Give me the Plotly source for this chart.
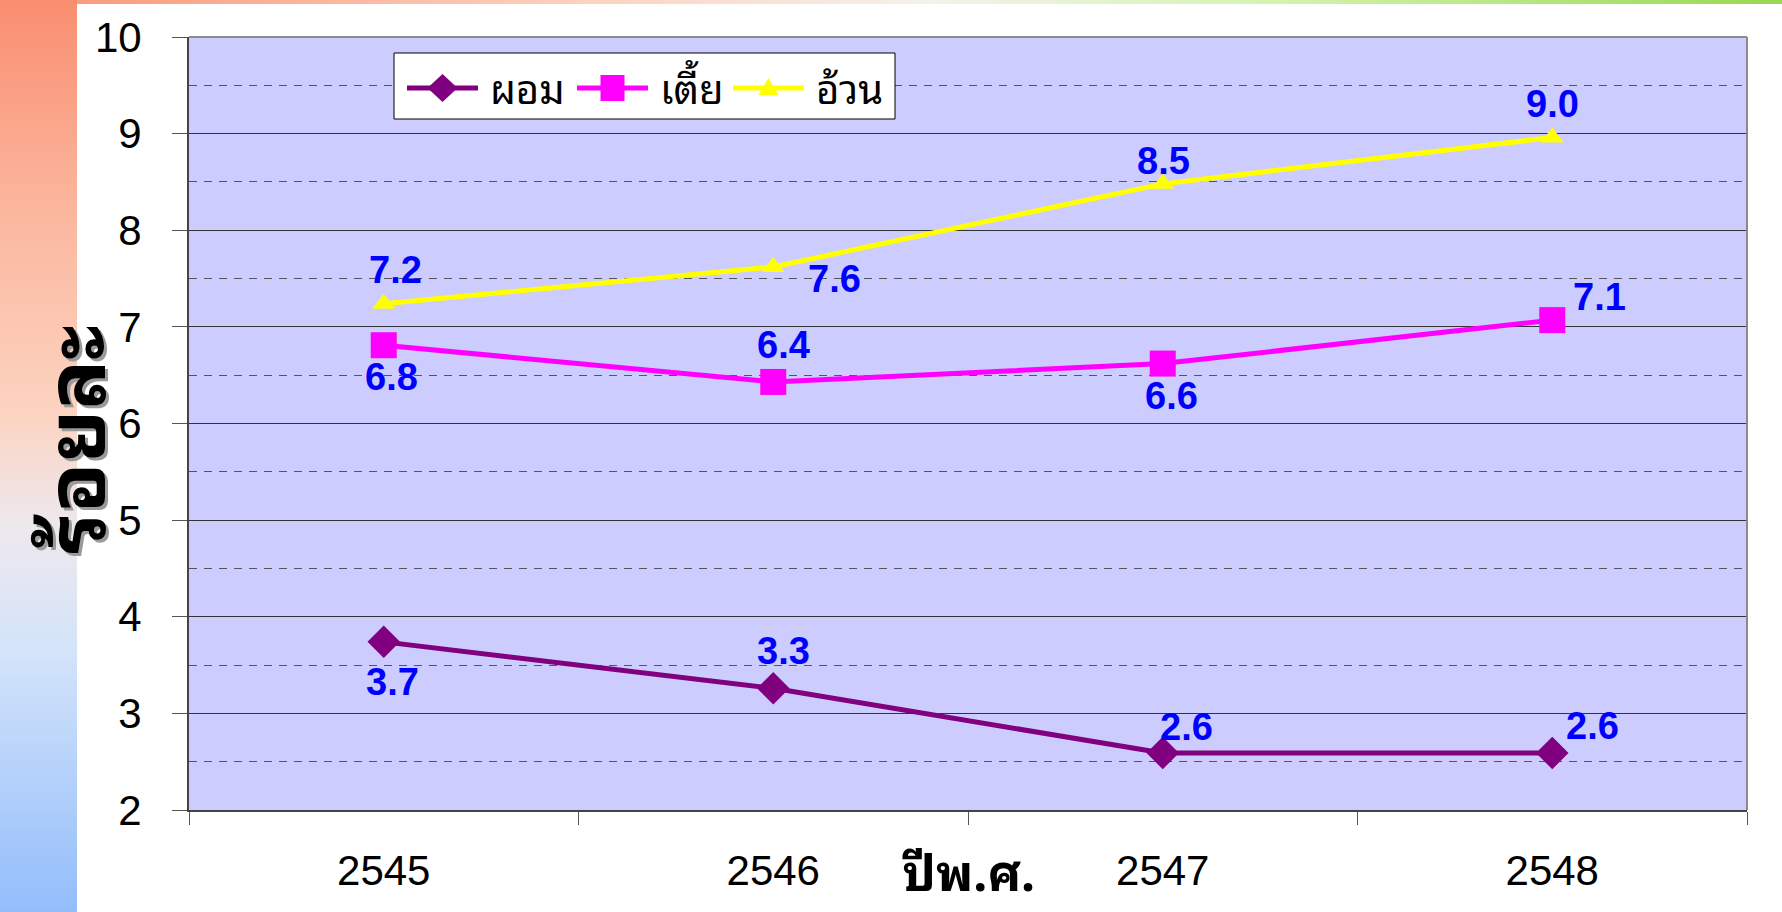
import base64
import plotly.graph_objects as go

# ---------------- data ----------------
years = ["2545", "2546", "2547", "2548"]
series_names = ["ผอม", "เตี้ย", "อ้วน"]
thin_values = [3.74, 3.26, 2.59, 2.59]      # ผอม
short_values = [6.81, 6.43, 6.62, 7.07]     # เตี้ย
fat_values = [7.24, 7.62, 8.48, 8.96]       # อ้วน
y_title = "ร้อยละ"
x_title = "ปีพ.ศ."

# ---------------- style ----------------
W, H = 1782, 912
PL, PR, PT, PB = 189, 1747, 37, 810   # plot area in px

colors = ["#800080", "#FF00FF", "#FFFF00"]
symbols = ["diamond", "square", "triangle-up"]
msizes = [25, 26, 20]
# label offsets (px) relative to each marker: (dx, dy-up)
label_offsets = [
    [(9, -40), (10, 37), (24, 26), (40, 27)],
    [(8, -32), (10, 37), (9, -32), (47, 23)],
    [(12, 34), (61, -12), (1, 23), (0, 33)],
]
THAI = "Noto Sans Thai Looped, Noto Sans Thai, Tahoma, sans-serif"
LATIN = "Liberation Sans, Arial, sans-serif"


def fx(px):
    return px / W


def fy(py):
    return 1 - py / H


fig = go.Figure()
all_values = [thin_values, short_values, fat_values]
for name, vals, c, s, ms in zip(series_names, all_values, colors, symbols, msizes):
    fig.add_trace(go.Scatter(
        x=years, y=vals, name=name, mode="lines+markers",
        line=dict(color=c, width=5),
        marker=dict(symbol=s, size=ms, color=c, line=dict(width=0)),
        hoverinfo="x+y+name", showlegend=False,
    ))

annotations = []
for vals, offs in zip(all_values, label_offsets):
    for i, (v, (dx, dy)) in enumerate(zip(vals, offs)):
        annotations.append(dict(
            x=i, y=v, xref="x", yref="y", text=f"<b>{v:.1f}</b>", showarrow=False,
            xshift=dx, yshift=dy,
            font=dict(family=LATIN, size=38, color="#0000FF"),
        ))

# y axis title with shadow
for dx, dy, col in [(3, -3, "#9a9a9a"), (0, 0, "#000000")]:
    annotations.append(dict(
        x=0, y=fy(440), xref="paper", yref="paper", text=f"<b>{y_title}</b>",
        showarrow=False, textangle=-90, xshift=dx, yshift=dy,
        xanchor="left", yanchor="middle",
        font=dict(family=THAI, size=82, color=col),
    ))

# x axis title
annotations.append(dict(
    x=fx(968), y=fy(911), xref="paper", yref="paper", text=f"<b>{x_title}</b>",
    showarrow=False, xanchor="center", yanchor="bottom",
    font=dict(family=THAI, size=50, color="#000000"),
))

# ---------------- custom legend (box, line samples, markers, text) ----------------
LEG_BOX = (394, 53, 895, 119)
LEG_Y = 88
leg_lines = [(407, 478), (577, 648), (733, 804)]
leg_text_x = [488, 658, 814]

shapes = [
    dict(type="line", xref="x domain", yref="y domain", x0=0, x1=1, y0=1, y1=1,
         line=dict(color="#8a8a8a", width=2)),
    dict(type="line", xref="x domain", yref="y domain", x0=1, x1=1, y0=0, y1=1,
         line=dict(color="#8a8a8a", width=2)),
    dict(type="rect", xref="paper", yref="paper", layer="above",
         x0=fx(LEG_BOX[0]), x1=fx(LEG_BOX[2]), y0=fy(LEG_BOX[3]), y1=fy(LEG_BOX[1]),
         fillcolor="white", line=dict(color="black", width=1)),
]


def poly(points):
    return "M " + " L ".join(f"{fx(px):.6f},{fy(py):.6f}" for px, py in points) + " Z"


for (lx0, lx1), c, s, name, tx in zip(leg_lines, colors, symbols, series_names, leg_text_x):
    shapes.append(dict(type="line", xref="paper", yref="paper", layer="above",
                       x0=fx(lx0), x1=fx(lx1), y0=fy(LEG_Y), y1=fy(LEG_Y),
                       line=dict(color=c, width=5)))
    cx = (lx0 + lx1) / 2
    if s == "diamond":
        pts = [(cx, LEG_Y - 14), (cx + 15, LEG_Y), (cx, LEG_Y + 14), (cx - 15, LEG_Y)]
    elif s == "square":
        pts = [(cx - 12, LEG_Y - 13), (cx + 12, LEG_Y - 13), (cx + 12, LEG_Y + 13), (cx - 12, LEG_Y + 13)]
    else:
        pts = [(cx, LEG_Y - 10), (cx + 10, LEG_Y + 7), (cx - 10, LEG_Y + 7)]
    shapes.append(dict(type="path", xref="paper", yref="paper", layer="above",
                       path=poly(pts), fillcolor=c, line=dict(color=c, width=0)))
    annotations.append(dict(
        x=fx(tx), y=fy(LEG_Y - 2), xref="paper", yref="paper", text=name,
        showarrow=False, xanchor="left", yanchor="middle",
        font=dict(family=THAI, size=40, color="black"),
    ))

# ---------------- background decoration (gradient strips) ----------------


def svg_uri(svg):
    return "data:image/svg+xml;base64," + base64.b64encode(svg.encode()).decode()


left_svg = (
    '<svg xmlns="http://www.w3.org/2000/svg" width="77" height="912" preserveAspectRatio="none">'
    '<defs><linearGradient id="g" x1="0" y1="0" x2="0" y2="1">'
    '<stop offset="0" stop-color="#F98E70"/>'
    '<stop offset="0.22" stop-color="#FBB59C"/>'
    '<stop offset="0.45" stop-color="#FCD3C0"/>'
    '<stop offset="0.58" stop-color="#EDE9EE"/>'
    '<stop offset="0.72" stop-color="#D2E3FA"/>'
    '<stop offset="1" stop-color="#93BDFA"/>'
    '</linearGradient></defs><rect width="77" height="912" fill="url(#g)"/></svg>'
)
top_svg = (
    '<svg xmlns="http://www.w3.org/2000/svg" width="1705" height="4" preserveAspectRatio="none">'
    '<defs><linearGradient id="t" x1="0" y1="0" x2="1" y2="0">'
    '<stop offset="0" stop-color="#FA9C7E"/>'
    '<stop offset="0.3" stop-color="#FCD2C0"/>'
    '<stop offset="0.5" stop-color="#F4F2EC"/>'
    '<stop offset="0.7" stop-color="#D4F4B0"/>'
    '<stop offset="1" stop-color="#98D850"/>'
    '</linearGradient></defs><rect width="1705" height="4" fill="url(#t)"/></svg>'
)

images = [
    dict(source=svg_uri(left_svg), xref="paper", yref="paper", x=0, y=1,
         sizex=fx(77), sizey=1, xanchor="left", yanchor="top",
         sizing="stretch", layer="below"),
    dict(source=svg_uri(top_svg), xref="paper", yref="paper", x=fx(77), y=1,
         sizex=fx(W - 77), sizey=4 / H, xanchor="left", yanchor="top",
         sizing="stretch", layer="below"),
]

fig.update_layout(
    width=W, height=H,
    margin=dict(l=0, r=0, t=0, b=0),
    paper_bgcolor="white",
    plot_bgcolor="#CCCCFF",
    font=dict(family=LATIN, color="black"),
    showlegend=False,
    xaxis=dict(
        type="category", domain=[fx(PL), fx(PR)], range=[-0.5, 3.5],
        tickson="boundaries", ticks="outside", ticklen=13, tickcolor="#555555",
        tickwidth=1, showgrid=False, zeroline=False,
        showline=True, linecolor="#444444", linewidth=2,
        tickfont=dict(size=42, color="black"), automargin=False,
        ticklabelstandoff=23,
    ),
    yaxis=dict(
        domain=[fy(PB), fy(PT)], range=[2, 10], dtick=1, tick0=0,
        ticks="outside", ticklen=15, tickcolor="#555555", tickwidth=1,
        showgrid=True, gridcolor="#333333", gridwidth=1, zeroline=False,
        showline=True, linecolor="#444444", linewidth=2,
        tickfont=dict(size=42, color="black"), automargin=False,
        ticklabelstandoff=22,
        minor=dict(dtick=0.5, showgrid=True, gridcolor="#555555", gridwidth=1,
                   griddash="8px,7px", ticks=""),
    ),
    annotations=annotations,
    images=images,
    shapes=shapes,
)

fig.write_html(
    "out.html",
    config={"displayModeBar": False},
    post_script="document.body.style.margin='0';document.body.style.overflow='hidden';",
)
